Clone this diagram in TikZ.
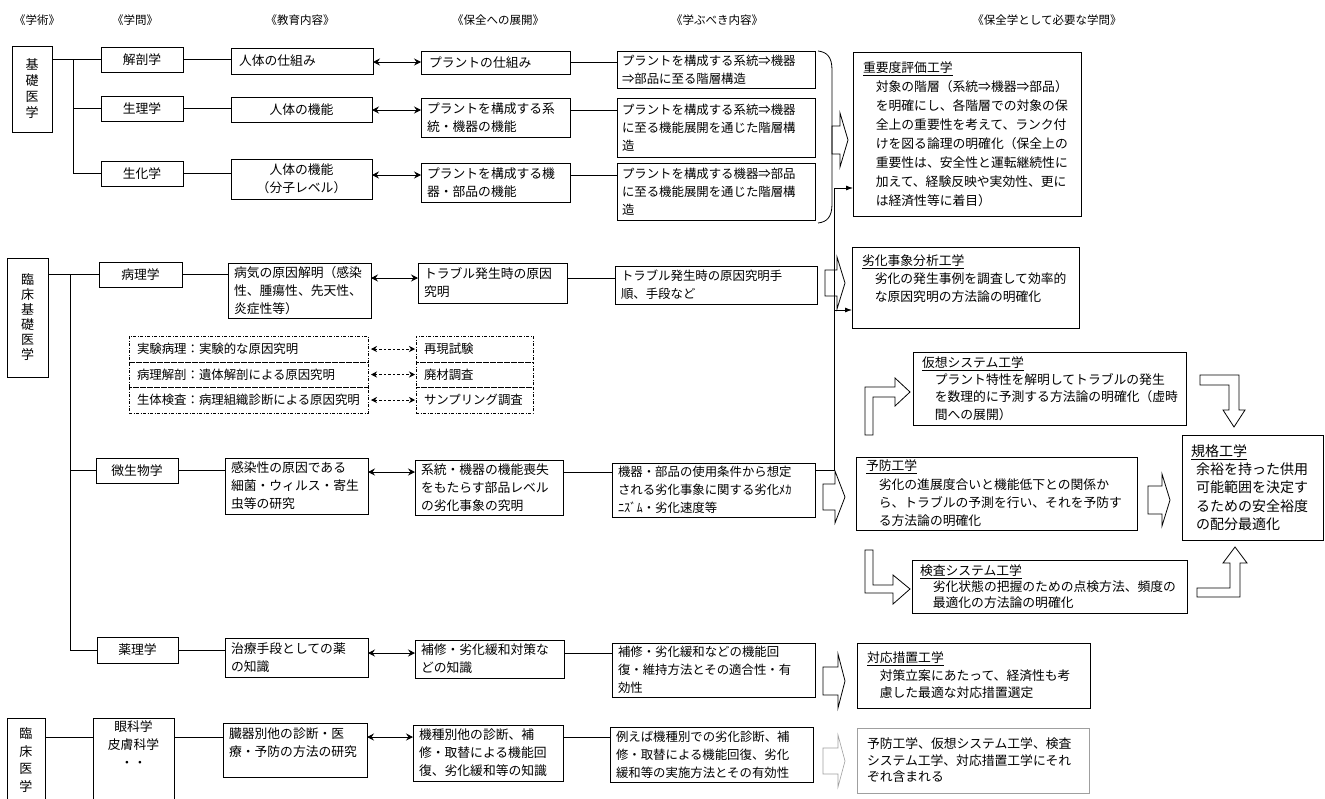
\documentclass[tikz,border=0pt]{standalone}
\usepackage{fontspec}
\setmainfont{Noto Sans CJK JP}
\usetikzlibrary{arrows.meta}
\newcommand\fa{\fontsize{12.8}{18}\selectfont}
\newcommand\fb{\fontsize{12.4}{18}\selectfont}
\newcommand\fh{\fontsize{11.5}{14}\selectfont}
\newcommand\lft[1][7pt]{\leftskip=#1\relax\rightskip=0pt plus 1fil\relax}
\newcommand\ctr{\centering}
\newcommand\ib{\hspace*{12.8pt}}
\newcommand\bx[8][]{\node[box,#1] (#2) at (#3,#4) {\begin{minipage}[t][#6pt][#7]{#5pt}#8\end{minipage}};}
\newcommand\rba[7][]{\draw[barrow,#1] (#2,{#3-#6}) -- ({#2+#4},{#3-#6}) -- ({#2+#4},{#3-#7}) -- ({#2+#5},#3) -- ({#2+#4},{#3+#7}) -- ({#2+#4},{#3+#6}) -- (#2,{#3+#6}) -- cycle;}
\begin{document}
\begin{tikzpicture}[x=1pt,y=-1pt,
  box/.style={draw,line width=0.8pt,inner sep=0pt,outer sep=0pt,anchor=north west},
  dbox/.style={line width=0.6pt,dash pattern=on 3pt off 1.5pt on 1pt off 1.5pt},
  conn/.style={line width=0.8pt},
  dbl/.style={conn,>={Stealth[length=7pt,width=7pt,inset=2.5pt]},<->},
  ddbl/.style={line width=0.6pt,dash pattern=on 2.5pt off 2pt,>={Stealth[length=6pt,width=6pt,inset=2pt]},<->,shorten <=3pt,shorten >=1pt},
  ptr/.style={conn,-{Latex[length=7pt,width=5pt]}},
  barrow/.style={line width=0.8pt,line join=miter}]
\fill[white] (0,0) rectangle (1325,798);
\useasboundingbox (0,0) rectangle (1325,798);

% headers
\node[font=\fh] (h1) at (37,20) {《学術》};
\node[font=\fh] (h2) at (135,20) {《学問》};
\node[font=\fh] (h3) at (300,20) {《教育内容》};
\node[font=\fh] (h4) at (498,20) {《保全への展開》};
\node[font=\fh] (h5) at (717,20) {《学ぶべき内容》};
\node[font=\fh] (h6) at (1047,20) {《保全学として必要な学問》};

% column 1
\bx{kiso}{12}{46}{40}{86}{c}{\ctr\fontsize{13}{16}\selectfont 基\\礎\\医\\学}
\bx{rinkiso}{7}{258}{41}{119}{c}{\ctr\fontsize{13}{15}\selectfont 臨\\床\\基\\礎\\医\\学}
\bx{rinsho}{7}{718}{38}{84}{c}{\ctr\fontsize{13}{17.5}\selectfont 臨\\床\\医\\学}

% column 2
\bx{kaibo}{101}{47}{82}{25}{c}{\ctr\fa 解剖学}
\bx{seiri}{101}{96}{82}{25}{c}{\ctr\fa 生理学}
\bx{seika}{101}{161}{82}{25}{c}{\ctr\fa 生化学}
\bx{byori}{99}{262}{83}{25}{c}{\ctr\fa 病理学}
\bx{bisei}{96}{458}{82}{25}{c}{\ctr\fa 微生物学}
\bx{yakuri}{97}{637}{81}{26}{c}{\ctr\fa 薬理学}
\bx{ganka}{93}{718}{81}{84}{t}{\ctr\fa\vspace*{3pt}眼科学\\皮膚科学\\・・}

% column 3
\bx{kyo1}{231}{48}{142}{26}{c}{\lft[8pt]\fa 人体の仕組み}
\bx{kyo2}{231}{97}{141}{25}{c}{\ctr\fa 人体の機能}
\bx{kyo3}{231}{159}{141}{40}{c}{\ctr\fa 人体の機能\\（分子レベル）}
\bx{kyo4}{228}{263}{143}{55}{c}{\lft[6pt]\fa 病気の原因解明（感染\\性、腫瘍性、先天性、\\炎症性等）}
\bx{kyo5}{225}{458}{143}{56}{c}{\lft[6pt]\fa 感染性の原因である\\細菌・ウィルス・寄生\\虫等の研究}
\bx{kyo6}{225}{638}{143}{39}{c}{\lft[6pt]\fa 治療手段としての薬\\の知識}
\bx{kyo7}{223}{723}{144}{54}{t}{\lft[6pt]\fa\vspace*{5pt}臓器別他の診断・医\\療・予防の方法の研究}

% column 4
\bx{hoz1}{421}{51}{149}{23}{c}{\lft[8pt]\fa プラントの仕組み}
\bx{hoz2}{421}{98}{149}{39}{c}{\lft[6pt]\fa プラントを構成する系\\統・機器の機能}
\bx{hoz3}{421}{163}{149}{39}{c}{\lft[6pt]\fa プラントを構成する機\\器・部品の機能}
\bx{hoz4}{418}{263}{149}{40}{c}{\lft[6pt]\fa トラブル発生時の原因\\究明}
\bx{hoz5}{415}{460}{148}{55}{c}{\lft[6pt]\fa 系統・機器の機能喪失\\をもたらす部品レベル\\の劣化事象の究明}
\bx{hoz6}{415}{640}{149}{38}{c}{\lft[6pt]\fa 補修・劣化緩和対策な\\どの知識}
\bx{hoz7}{413}{725}{150}{56}{c}{\lft[6pt]\fa 機種別他の診断、補\\修・取替による機能回\\復、劣化緩和等の知識}

% column 5
\bx{man1}{617}{51}{198}{37}{c}{\lft[5pt]\fb プラントを構成する系統⇒機器\\⇒部品に至る階層構造}
\bx{man2}{617}{98}{198}{59}{c}{\lft[5pt]\fb プラントを構成する系統⇒機器\\に至る機能展開を通じた階層構\\造}
\bx{man3}{617}{163}{198}{57}{c}{\lft[5pt]\fb プラントを構成する機器⇒部品\\に至る機能展開を通じた階層構\\造}
\bx{man4}{615}{266}{202}{38}{c}{\lft[6pt]\fb トラブル発生時の原因究明手\\順、手段など}
\bx{man5}{612}{463}{203}{54}{c}{\lft[6pt]\fb 機器・部品の使用条件から想定\\される劣化事象に関する劣化ﾒｶ\\ﾆｽﾞﾑ・劣化速度等}
\bx{man6}{612}{643}{203}{54}{c}{\lft[6pt]\fb 補修・劣化緩和などの機能回\\復・維持方法とその適合性・有\\効性}
\bx{man7}{610}{727}{203}{55}{c}{\lft[6pt]\fb 例えば機種別での劣化診断、補\\修・取替による機能回復、劣化\\緩和等の実施方法とその有効性}

% dash-dot boxes
\bx[dbox]{jik}{129}{336}{239}{26}{c}{\lft[8pt]\fb 実験病理：実験的な原因究明}
\bx[dbox]{kai2}{129}{362}{239}{25}{c}{\lft[8pt]\fb 病理解剖：遺体解剖による原因究明}
\bx[dbox]{sei2}{129}{387}{239}{26}{c}{\lft[8pt]\fb 生体検査：病理組織診断による原因究明}
\bx[dbox]{sai}{416}{336}{117}{26}{c}{\lft[8pt]\fb 再現試験}
\bx[dbox]{hai}{416}{362}{117}{25}{c}{\lft[8pt]\fb 廃材調査}
\bx[dbox]{samp}{416}{387}{117}{26}{c}{\lft[8pt]\fb サンプリング調査}

% right column
\bx{juyo}{853}{52}{228}{164}{c}{\lft[10pt]\fontsize{12.8}{19}\selectfont\underline{重要度評価工学}\\\ib 対象の階層（系統⇒機器⇒部品）\\\ib を明確にし、各階層での対象の保\\\ib 全上の重要性を考えて、ランク付\\\ib けを図る論理の明確化（保全上の\\\ib 重要性は、安全性と運転継続性に\\\ib 加えて、経験反映や実効性、更に\\\ib は経済性等に着目）}
\bx{rekka}{852}{247}{227}{81}{t}{\lft[10pt]\fa\vspace*{8pt}\underline{劣化事象分析工学}\\\ib 劣化の発生事例を調査して効率的\\\ib な原因究明の方法論の明確化}
\bx{kaso}{913}{352}{273}{73}{c}{\lft[9pt]\fontsize{12.8}{17.3}\selectfont\underline{仮想システム工学}\\\ib プラント特性を解明してトラブルの発生\\\ib を数理的に予測する方法論の明確化（虚時\\\ib 間への展開）}
\bx{yobo}{856}{457}{281}{73}{c}{\lft[10pt]\fontsize{12.8}{18.3}\selectfont\underline{予防工学}\\\ib 劣化の進展度合いと機能低下との関係か\\\ib ら、トラブルの予測を行い、それを予防す\\\ib る方法論の明確化}
\bx{kensa}{912}{560}{275}{53}{c}{\lft[8pt]\fontsize{12.8}{16}\selectfont\underline{検査システム工学}\\\ib 劣化状態の把握のための点検方法、頻度の\\\ib 最適化の方法論の明確化}
\bx{kikaku}{1182}{435}{141}{105}{c}{\lft[9pt]\fontsize{14}{18.3}\selectfont\underline{規格工学}\\\hspace*{5pt}余裕を持った供用\\\hspace*{5pt}可能範囲を決定す\\\hspace*{5pt}るための安全裕度\\\hspace*{5pt}の配分最適化}
\bx{taio}{857}{643}{233}{65}{c}{\lft[10pt]\fontsize{12.8}{17.5}\selectfont\underline{対応措置工学}\\\ib 対策立案にあたって、経済性も考\\\ib 慮した最適な対応措置選定}
\bx[draw=gray!75,line width=0.6pt]{fukumu}{857}{728}{232}{65}{c}{\lft[10pt]\fontsize{12.8}{16.5}\selectfont 予防工学、仮想システム工学、検査\\システム工学、対応措置工学にそれ\\ぞれ含まれる}

% row coordinates
\coordinate (tk) at (73,0);
\coordinate (tr) at (70,0);
\coordinate (r1) at (0,62);
\coordinate (r2) at (0,110);
\coordinate (r3) at (0,175);
\coordinate (r4) at (0,278);
\coordinate (r5) at (0,472);
\coordinate (r6) at (0,653);
\coordinate (r7) at (0,737);

% trees
\draw[conn] (kiso.east |- kaibo.west) -- (kaibo.west);
\draw[conn] (kaibo.west -| tk) |- (seika.west);
\draw[conn] (seiri.west -| tk) -- (seiri.west);
\draw[conn] (rinkiso.east |- byori.west) -- (byori.west);
\draw[conn] (byori.west -| tr) |- (yakuri.west);
\draw[conn] (bisei.west -| tr) -- (bisei.west);
\draw[conn] (rinsho.east |- r7) -- (ganka.west |- r7);

% rows
\draw[conn] (kaibo.east) -- (kaibo.east -| kyo1.west);
\draw[dbl] (kyo1.east |- r1) -- (hoz1.west |- r1);
\draw[conn] (hoz1.east |- r1) -- (man1.west |- r1);
\draw[conn] (seiri.east) -- (seiri.east -| kyo2.west);
\draw[dbl] (kyo2.east |- r2) -- (hoz2.west |- r2);
\draw[conn] (hoz2.east |- r2) -- (man2.west |- r2);
\draw[conn] (seika.east) -- (seika.east -| kyo3.west);
\draw[dbl] (kyo3.east |- r3) -- (hoz3.west |- r3);
\draw[conn] (hoz3.east |- r3) -- (man3.west |- r3);
\draw[conn] (byori.east) -- (byori.east -| kyo4.west);
\draw[dbl] (kyo4.east |- r4) -- (hoz4.west |- r4);
\draw[conn] (hoz4.east |- r4) -- (man4.west |- r4);
\draw[conn] (bisei.east) -- (bisei.east -| kyo5.west);
\draw[dbl] (kyo5.east |- r5) -- (hoz5.west |- r5);
\draw[conn] (hoz5.east |- r5) -- (man5.west |- r5);
\draw[conn] (yakuri.east) -- (yakuri.east -| kyo6.west);
\draw[dbl] (kyo6.east |- r6) -- (hoz6.west |- r6);
\draw[conn] (hoz6.east |- r6) -- (man6.west |- r6);
\draw[conn] (ganka.east |- r7) -- (kyo7.west |- r7);
\draw[dbl] (kyo7.east |- r7) -- (hoz7.west |- r7);
\draw[conn] (hoz7.east |- r7) -- (man7.west |- r7);

% dashed arrows
\draw[ddbl] (jik.east) -- (sai.west);
\draw[ddbl] (kai2.east) -- (hai.west);
\draw[ddbl] (sei2.east) -- (samp.west);

% brace
\draw[line width=0.8pt] (818,51) .. controls (827,52) and (832,57) .. (832,70) -- (832,204) .. controls (832,217) and (827,222) .. (818,223);

% collector line
\coordinate (j5) at (834,470);
\coordinate (j1) at (834,188);
\coordinate (j2) at (834,310);
\draw[ptr] (man5.east |- j5) -- (j5) -- (j1) -- (juyo.west |- j1);
\draw[ptr] (j2) -- (rekka.west |- j2);

% block arrows
\rba{832}{140}{8}{16}{14}{27}
\rba{825}{283}{12}{20}{13}{26}
\rba{823}{497}{12}{22}{13}{26}
\rba{1148}{500}{14}{22}{14}{26}
\rba{823}{681}{15}{22}{14}{27}
\rba[draw=gray!75,line width=0.6pt]{823}{761}{15}{22}{13}{26}

% L-shaped block arrows
\draw[barrow] (865,435) -- (865,387) -- (895,387) -- (895,378) -- (910,392) -- (895,406) -- (895,397) -- (873,397) -- (873,435) -- cycle;
\draw[barrow] (865,550) -- (865,593) -- (893,593) -- (893,604) -- (910,589) -- (893,575) -- (893,585) -- (873,585) -- (873,550) -- cycle;
\draw[barrow] (1200,375) -- (1239,375) -- (1239,410) -- (1245,410) -- (1234,427) -- (1223,410) -- (1229,410) -- (1229,385) -- (1200,385) -- cycle;
\draw[barrow] (1197,597) -- (1240,597) -- (1240,563) -- (1247,563) -- (1235,547) -- (1223,563) -- (1230,563) -- (1230,588) -- (1197,588) -- cycle;
\end{tikzpicture}
\end{document}
